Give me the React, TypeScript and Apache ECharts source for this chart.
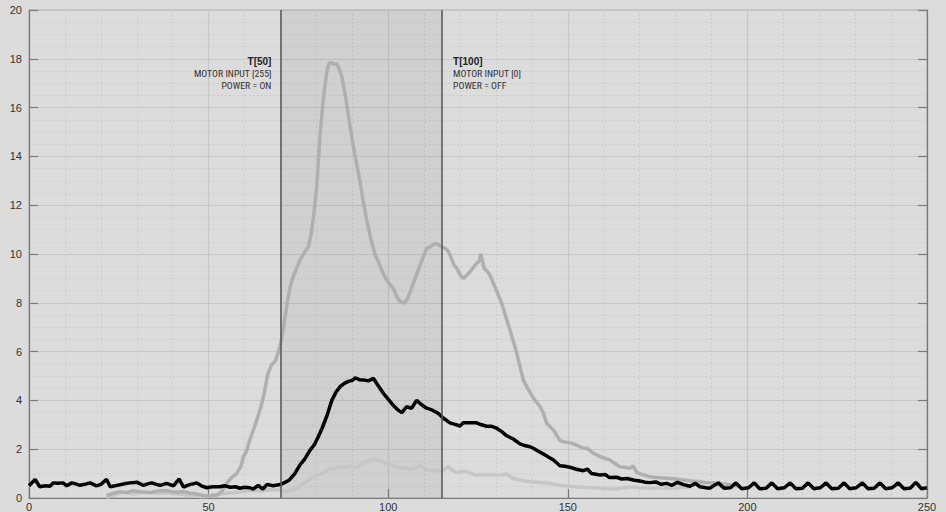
import React, { useEffect, useRef } from "react";
import * as echarts from "echarts";

// ---- data ----
const xMin = 0;
const xMax = 250;
const xInterval = 50;
const yMin = 0;
const yMax = 20;
const yInterval = 2;

const onTime = 70;
const offTime = 115;

const leftNote = ["T[50]", "MOTOR INPUT [255]", "POWER = ON"];
const rightNote = ["T[100]", "MOTOR INPUT [0]", "POWER = OFF"];
const noteRows = [17.87, 17.4, 16.92];

const blackSeries: number[][] = [
  [0, 0.5], [1.7, 0.76], [3, 0.46], [4.5, 0.5], [5.8, 0.48], [6.8, 0.62], [8, 0.6], [9.5, 0.62],
  [10.5, 0.5], [11.9, 0.62], [13, 0.58], [14.2, 0.52], [15.5, 0.56], [17, 0.62], [18.8, 0.5],
  [20, 0.56], [21.6, 0.76], [22.6, 0.46], [24, 0.5], [25.3, 0.54], [26.5, 0.58], [28.1, 0.62],
  [30, 0.65], [31, 0.58], [31.8, 0.52], [33, 0.58], [34.2, 0.62], [35.5, 0.56], [36.5, 0.52],
  [38.3, 0.6], [40.2, 0.5], [41.8, 0.78], [43, 0.45], [44.5, 0.54], [46.7, 0.62], [48, 0.5],
  [49.5, 0.42], [51, 0.46], [53.2, 0.46], [54.5, 0.5], [56, 0.44], [57.5, 0.46], [58.7, 0.4],
  [60, 0.44], [61.5, 0.42], [62.4, 0.36], [63.8, 0.52], [65.1, 0.36], [66.2, 0.55], [68, 0.5],
  [70, 0.55], [71, 0.62], [72.5, 0.74], [74, 1.0], [75.4, 1.35], [76.8, 1.6], [78.2, 1.95],
  [79.5, 2.2], [80.5, 2.5], [81.7, 2.9], [82.9, 3.35], [84.3, 4.0], [85.5, 4.35], [86.6, 4.56],
  [87.8, 4.7], [88.9, 4.78], [90, 4.82], [90.8, 4.92], [92, 4.85], [93.1, 4.84], [94.5, 4.8],
  [95.9, 4.9], [97, 4.65], [98.6, 4.3], [100, 4.05], [101.4, 3.8], [102.6, 3.62], [103.8, 3.5],
  [105.1, 3.74], [106.5, 3.68], [107.9, 4.0], [109.3, 3.82], [110.7, 3.68], [112.3, 3.6],
  [113.9, 3.47], [115.3, 3.28], [117.2, 3.08], [118.6, 3.02], [120, 2.95], [120.9, 3.08],
  [122.8, 3.08], [124.6, 3.08], [126, 3.0], [127.4, 2.94], [128.8, 2.94], [130.2, 2.86],
  [131.6, 2.72], [133, 2.55], [134.8, 2.42], [136.7, 2.22], [138, 2.15], [139.5, 2.1],
  [140.4, 2.04], [141.8, 1.92], [143.2, 1.8], [144.6, 1.68], [146, 1.56], [147.8, 1.32],
  [149.2, 1.3], [150.6, 1.26], [152.4, 1.18], [154.3, 1.12], [155.5, 1.18], [156.6, 1.0],
  [159, 0.94], [160.5, 0.96], [161.5, 0.84], [163.6, 0.85], [165, 0.78], [166.5, 0.8],
  [168.2, 0.74], [170, 0.7], [171.5, 0.65], [172.9, 0.63], [174.5, 0.66], [176, 0.56],
  [177.5, 0.6], [179, 0.52], [180.5, 0.64], [182.2, 0.55], [184, 0.48], [185.5, 0.6],
  [186.8, 0.46], [188.5, 0.42], [189.5, 0.4], [191.9, 0.62], [193.5, 0.4], [195.3, 0.42],
  [196.8, 0.62], [198.4, 0.38], [200.3, 0.42], [201.9, 0.62], [203.4, 0.38], [205.2, 0.4],
  [206.8, 0.62], [208.4, 0.38], [210.3, 0.42], [211.9, 0.62], [213.5, 0.38], [215.3, 0.4],
  [216.9, 0.62], [218.5, 0.38], [220.3, 0.42], [221.9, 0.62], [223.5, 0.38], [225.3, 0.4],
  [226.9, 0.62], [228.5, 0.38], [230.3, 0.42], [232, 0.62], [233.6, 0.38], [235.3, 0.4],
  [236.9, 0.62], [238.5, 0.38], [240.3, 0.42], [242, 0.62], [243.6, 0.38], [245.3, 0.4],
  [246.9, 0.64], [248.5, 0.38], [250, 0.42],
];

const midGraySeries: number[][] = [
  [21.6, 0.1], [23.5, 0.2], [25.3, 0.26], [27, 0.22], [29, 0.3], [31, 0.26], [33.7, 0.22],
  [36, 0.3], [38.3, 0.3], [40.5, 0.24], [43, 0.26], [45, 0.2], [46.7, 0.16], [49.5, 0.08],
  [52.3, 0.12], [53.7, 0.26], [55, 0.6], [56.5, 0.85], [57.8, 1.0], [59, 1.3], [59.7, 1.7],
  [60.5, 1.9], [61.5, 2.4], [62.5, 2.8], [63.4, 3.2], [64.5, 3.7], [65.5, 4.3], [66.5, 5.1],
  [67.5, 5.45], [68.5, 5.6], [69.5, 6.0], [70.3, 6.5], [71.3, 7.43], [72, 8.1], [72.7, 8.66],
  [73.6, 9.1], [74.5, 9.41], [75.4, 9.75], [76.6, 10.05], [77.8, 10.3], [78.5, 10.8],
  [79.1, 11.4], [80.1, 12.76], [81, 14.8], [81.9, 16.3], [82.9, 17.47], [83.5, 17.8],
  [84.1, 17.84], [85, 17.78], [85.7, 17.8], [86.4, 17.55], [87.1, 17.27], [88.4, 16.2],
  [89.3, 15.3], [90.3, 14.4], [92.1, 13.0], [93, 12.2], [94, 11.4], [95.2, 10.6], [96.3, 10.0],
  [97.5, 9.6], [98.6, 9.2], [99.6, 8.93], [100.5, 8.75], [101.4, 8.6], [102.4, 8.25],
  [103.3, 8.05], [104.2, 7.98], [105.2, 8.11], [106, 8.4], [107, 8.8], [108, 9.2], [108.9, 9.55],
  [109.8, 9.9], [110.7, 10.23], [111.8, 10.3], [113, 10.44], [114, 10.38], [114.9, 10.3],
  [116, 10.22], [116.7, 10.12], [117.5, 9.85], [118.3, 9.55], [119.1, 9.41], [120, 9.15],
  [120.9, 9.0], [121.8, 9.12], [122.8, 9.27], [123.7, 9.45], [124.6, 9.62], [125.3, 9.7],
  [125.8, 10.0], [126.7, 9.41], [127.5, 9.3], [128.3, 9.14], [129.7, 8.66], [131.6, 7.98],
  [132.7, 7.45], [133.9, 6.89], [135.8, 5.93], [137.6, 4.84], [139, 4.45], [140.4, 4.1],
  [142.3, 3.74], [143.2, 3.47], [144.1, 3.06], [146, 2.79], [147.8, 2.35], [149, 2.3],
  [150.6, 2.26], [152, 2.2], [153.4, 2.1], [154.3, 2.04], [155.3, 2.04], [157, 1.85],
  [159, 1.69], [160.5, 1.62], [161.7, 1.56], [163, 1.42], [164.5, 1.28], [165.8, 1.26],
  [167.3, 1.22], [168.2, 1.32], [169.2, 1.04], [171, 0.95], [172.9, 0.87], [175, 0.84],
  [177.5, 0.81], [180, 0.78], [182.2, 0.74], [184.5, 0.7], [186.8, 0.67], [189, 0.62],
  [191.5, 0.6], [194, 0.56], [196.1, 0.52], [198, 0.48],
];

const lightGraySeries: number[][] = [
  [21.6, 0.03], [23.5, 0.12], [26.3, 0.24], [29, 0.16], [30.5, 0.2], [32.7, 0.24], [34.5, 0.2],
  [36.5, 0.18], [38.5, 0.22], [40.2, 0.18], [42, 0.16], [43.9, 0.12], [46, 0.1], [47.6, 0.06],
  [49.5, 0.06], [51, 0.1], [53, 0.14], [55, 0.2], [57, 0.22], [59, 0.24], [61, 0.3], [63, 0.32],
  [65, 0.3], [67, 0.34], [69.9, 0.33], [71.7, 0.26], [73, 0.32], [74.5, 0.4], [76, 0.55],
  [77.3, 0.67], [78.7, 0.82], [80.1, 0.94], [81.9, 1.01], [83.8, 1.22], [85, 1.2], [86.6, 1.28],
  [88, 1.26], [89.4, 1.31], [90.5, 1.26], [91.7, 1.28], [93, 1.4], [94, 1.49], [95.5, 1.56],
  [96.8, 1.58], [98, 1.5], [99.6, 1.39], [101, 1.34], [102.4, 1.28], [103.8, 1.22],
  [105.1, 1.22], [106.5, 1.18], [108, 1.26], [108.9, 1.34], [110.7, 1.15], [112.5, 1.14],
  [114.4, 1.12], [115.5, 1.14], [116.7, 1.3], [117.8, 1.14], [119.1, 1.04], [120.5, 1.1],
  [121.8, 1.08], [123.2, 1.0], [124.6, 0.94], [126, 0.96], [127.4, 0.94], [128.8, 0.96],
  [130.2, 0.94], [131.6, 0.94], [133, 0.98], [134.8, 0.8], [136.7, 0.74], [138, 0.7],
  [139.5, 0.67], [142, 0.64], [145, 0.6], [147.5, 0.52], [149.6, 0.49], [152, 0.46],
  [154.3, 0.44], [157, 0.42], [159, 0.4], [161, 0.38], [163.6, 0.37], [166, 0.42],
  [168.2, 0.46], [170, 0.42], [172.9, 0.4], [175, 0.42], [177.5, 0.4], [180, 0.42],
  [182.2, 0.44], [184.5, 0.46],
];

const FONT = "'Liberation Sans', Arial, Helvetica, sans-serif";
const NOTE_FONT = "'Liberation Sans Narrow', 'Roboto Condensed', 'Liberation Sans', sans-serif";

export default function App() {
  const ref = useRef<HTMLDivElement>(null);

  useEffect(() => {
    if (!ref.current) return;
    const chart = echarts.init(ref.current, undefined, { renderer: "svg" });

    const axisLineColor = "#7a7a7a";
    const major = { show: true, lineStyle: { color: "#c7c7c7", width: 1.2 } };
    const minor = { show: true, lineStyle: { color: "#cdcdcd", width: 1, type: [2, 2] as any } };

    const option: any = {
      animation: false,
      backgroundColor: "#dcdcdc",
      textStyle: { fontFamily: FONT },
      grid: {
        left: 29,
        right: 19,
        top: 10,
        bottom: 14,
        show: true,
        backgroundColor: "#dcdcdc",
        borderColor: "#a9a9a9",
        borderWidth: 1,
      },
      xAxis: {
        type: "value",
        min: xMin,
        max: xMax,
        interval: xInterval,
        axisLine: { show: true, lineStyle: { color: axisLineColor, width: 1.2 } },
        axisTick: { show: true, inside: true, length: 9, lineStyle: { color: axisLineColor, width: 1.2 } },
        axisLabel: { color: "#333", fontSize: 11, margin: 3, fontFamily: FONT },
        splitLine: major,
        minorTick: { show: false, splitNumber: 5 },
        minorSplitLine: minor,
      },
      yAxis: [
        {
          type: "value",
          min: yMin,
          max: yMax,
          interval: yInterval,
          axisLine: { show: true, lineStyle: { color: axisLineColor, width: 1.2 } },
          axisTick: { show: true, inside: true, length: 9, lineStyle: { color: axisLineColor, width: 1.2 } },
          axisLabel: { color: "#333", fontSize: 11, margin: 7, fontFamily: FONT },
          splitLine: major,
          minorTick: { show: false, splitNumber: 4 },
          minorSplitLine: minor,
        },
        {
          type: "value",
          position: "right",
          min: yMin,
          max: yMax,
          interval: yInterval,
          axisLine: { show: true, lineStyle: { color: axisLineColor, width: 1.2 } },
          axisTick: { show: true, inside: true, length: 9, lineStyle: { color: axisLineColor, width: 1.2 } },
          axisLabel: { show: false },
          splitLine: { show: false },
        },
      ],
      series: [
        {
          type: "line",
          name: "phase",
          data: [],
          z: 1,
          silent: true,
          markArea: {
            silent: true,
            itemStyle: { color: "rgba(0,0,0,0.05)" },
            data: [[{ xAxis: onTime }, { xAxis: offTime }]],
          },
          markLine: {
            silent: true,
            symbol: "none",
            label: { show: false },
            lineStyle: { color: "#555", width: 1.5, type: "solid" },
            data: [{ xAxis: onTime }, { xAxis: offTime }],
          },
        },
        {
          type: "line",
          name: "light",
          data: lightGraySeries,
          showSymbol: false,
          smooth: false,
          z: 2,
          lineStyle: { color: "#c6c6c6", width: 3.5 },
        },
        {
          type: "line",
          name: "mid",
          data: midGraySeries,
          showSymbol: false,
          z: 3,
          lineStyle: { color: "#afafaf", width: 3.5 },
        },
        {
          type: "line",
          name: "black",
          data: blackSeries,
          showSymbol: false,
          z: 4,
          lineStyle: { color: "#000", width: 3.5 },
        },
      ],
    };

    chart.setOption(option);

    const xOn = chart.convertToPixel({ xAxisIndex: 0 }, onTime) as number;
    const xOff = chart.convertToPixel({ xAxisIndex: 0 }, offTime) as number;
    const rowsPx = noteRows.map((v) => chart.convertToPixel({ yAxisIndex: 0 }, v) as number);

    const mk = (text: string, i: number, x: number, align: "left" | "right") => ({
      type: "text",
      x,
      y: rowsPx[i],
      z: 10,
      silent: true,
      style: {
        text,
        align,
        verticalAlign: "middle",
        fontSize: i === 0 ? 10 : 9.8,
        lineHeight: 10,
        fontWeight: i === 0 ? "bold" : "normal",
        fontFamily: i === 0 ? FONT : NOTE_FONT,
        fill: i === 0 ? "#222" : "#333",
      },
    });

    chart.setOption({
      graphic: [
        ...leftNote.map((t, i) => mk(t, i, xOn - 9, "right")),
        ...rightNote.map((t, i) => mk(t, i, xOff + 11, "left")),
      ],
    });

    return () => chart.dispose();
  }, []);

  return (
    <div
      ref={ref}
      style={{ position: "fixed", left: 0, top: 0, width: 946, height: 512, background: "#dcdcdc" }}
    />
  );
}
